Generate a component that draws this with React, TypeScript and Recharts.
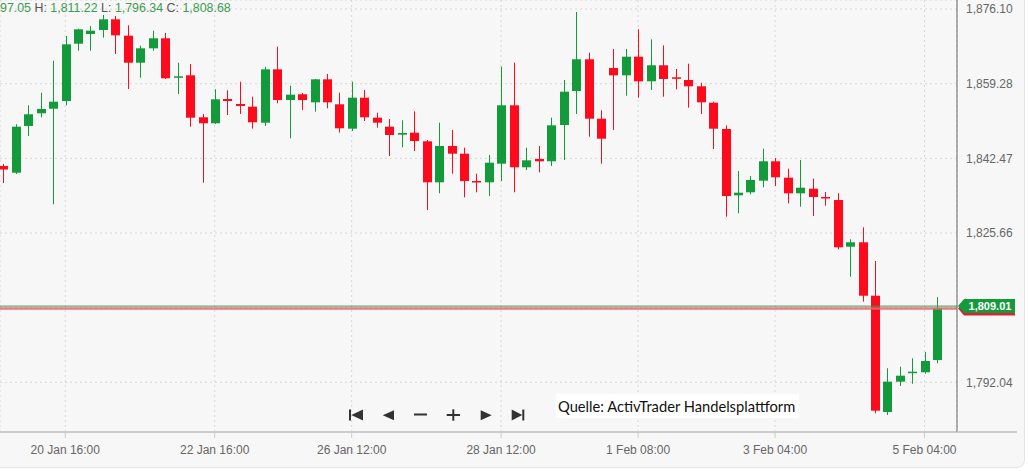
import React from 'react';
import { ComposedChart, Bar, XAxis, YAxis, CartesianGrid, ReferenceLine } from 'recharts';

// 4h candles
const opens = [
  1840.75, 1839.24, 1849.76, 1852.62, 1853.65, 1855.39, 1868.29, 1870.47, 1871.37, 1873.78,
  1870.09, 1864.01, 1867.25, 1869.51, 1860.72, 1861.17, 1851.72, 1850.37, 1855.84, 1854.71,
  1854.1, 1850.5, 1862.52, 1855.61, 1856.9, 1855.09, 1860.27, 1854.64, 1849.15, 1856.13,
  1851.63, 1849.6, 1847.8, 1848.25, 1846.31, 1837.08, 1845.25, 1843.52, 1837.37, 1837.08,
  1841.27, 1854.42, 1840.46, 1842.33, 1841.81, 1849.98, 1857.64, 1864.78, 1851.4, 1862.82,
  1861.17, 1865.36, 1859.82, 1863.43, 1860.72, 1860.12, 1858.7, 1855.0, 1849.08, 1834.15,
  1834.83, 1837.44, 1841.81, 1838.12, 1834.6, 1835.64, 1833.77, 1833.09, 1822.58, 1823.57,
  1811.54, 1785.36, 1792.18, 1794.14, 1794.3, 1797.05
];
const highs = [
  1841.2, 1850.14, 1854.42, 1857.26, 1864.46, 1870.02, 1871.67, 1872.28, 1874.75, 1874.53,
  1872.43, 1867.84, 1871.22, 1870.7, 1864.01, 1863.72, 1852.46, 1858.02, 1857.8, 1859.73,
  1856.35, 1863.11, 1867.61, 1858.83, 1857.19, 1860.34, 1861.47, 1857.26, 1859.73, 1857.86,
  1852.75, 1851.33, 1851.04, 1853.07, 1846.6, 1850.5, 1848.86, 1844.87, 1839.02, 1843.23,
  1863.11, 1864.01, 1844.87, 1845.25, 1851.63, 1860.12, 1875.43, 1866.26, 1853.29, 1867.1,
  1867.1, 1871.53, 1869.28, 1867.93, 1862.59, 1863.79, 1859.51, 1855.23, 1849.91, 1839.62,
  1838.5, 1844.65, 1842.55, 1840.14, 1842.1, 1837.89, 1834.9, 1834.6, 1824.24, 1826.95,
  1819.36, 1795.2, 1795.56, 1797.45, 1798.87, 1811.22
];
const lows = [
  1836.92, 1838.95, 1847.51, 1851.72, 1832.13, 1854.42, 1866.71, 1866.71, 1869.64, 1865.97,
  1858.09, 1860.63, 1866.71, 1860.34, 1856.96, 1849.6, 1836.99, 1850.21, 1852.23, 1852.46,
  1849.15, 1849.76, 1854.87, 1846.99, 1853.36, 1852.98, 1853.74, 1848.29, 1848.63, 1850.88,
  1849.37, 1843.0, 1844.96, 1844.13, 1830.84, 1834.6, 1839.02, 1833.7, 1834.83, 1833.99,
  1837.37, 1834.83, 1839.85, 1839.33, 1840.75, 1842.1, 1852.46, 1847.35, 1841.27, 1848.86,
  1856.58, 1856.13, 1857.86, 1856.35, 1858.02, 1853.88, 1852.46, 1844.58, 1829.33, 1830.1,
  1834.38, 1835.95, 1836.25, 1832.35, 1831.59, 1829.49, 1831.81, 1821.99, 1815.82, 1810.19,
  1785.06, 1784.68, 1791.21, 1791.73, 1793.98, 1796.34
];
const closes = [
  1839.96, 1849.6, 1852.39, 1853.59, 1855.23, 1868.15, 1871.53, 1871.22, 1873.78, 1870.18,
  1864.01, 1867.25, 1869.51, 1860.5, 1860.95, 1851.63, 1850.37, 1855.77, 1855.39, 1854.26,
  1850.59, 1862.52, 1855.61, 1856.81, 1855.61, 1860.27, 1855.09, 1849.24, 1856.13, 1851.72,
  1850.5, 1847.73, 1848.18, 1846.38, 1837.08, 1845.25, 1843.52, 1837.37, 1837.08, 1841.49,
  1854.42, 1840.46, 1842.03, 1841.81, 1849.91, 1857.48, 1864.78, 1851.4, 1846.9, 1861.17,
  1865.36, 1859.82, 1863.43, 1860.34, 1860.41, 1858.7, 1855.09, 1849.15, 1833.99, 1834.74,
  1837.6, 1841.81, 1838.21, 1834.6, 1835.86, 1833.77, 1833.48, 1822.44, 1823.57, 1811.54,
  1785.65, 1792.18, 1793.53, 1794.43, 1796.84, 1808.68
];

const timeTickIndex = [5, 17, 28, 40, 51, 62, 74];
const timeTickLabels = ['20 Jan 16:00', '22 Jan 16:00', '26 Jan 12:00', '28 Jan 12:00', '1 Feb 08:00', '3 Feb 04:00', '5 Feb 04:00'];
const priceTicks = [1792.04, 1808.85, 1825.66, 1842.47, 1859.28, 1876.1];
const hiddenPriceTick = 1808.85;

const bidPrice = 1809.2;
const askPrice = 1808.68;
const bidLabel = '1,809.01';

const headerOpenTail = '97.05';
const headerFields = [
  { name: 'H:', value: '1,811.22' },
  { name: 'L:', value: '1,796.34' },
  { name: 'C:', value: '1,808.68' }
];
const sourceText = 'Quelle: ActivTrader Handelsplattform';

const GREEN = '#139a3b';
const RED = '#fd0b1c';
const BG = '#f7f7f7';

const data = opens.map((open, i) => ({
  idx: i,
  open,
  high: highs[i],
  low: lows[i],
  close: closes[i],
  range: [lows[i], highs[i]]
}));

const fmt = (v: number) => v.toLocaleString('en-US', { minimumFractionDigits: 2, maximumFractionDigits: 2 });

const Candle = (props: any) => {
  const { x, y, width, height, payload } = props;
  if (x == null || y == null || !payload) return null;
  const { open, close, high, low } = payload;
  const top = Math.min(y, y + height);
  const h = Math.abs(height);
  const color = close >= open ? GREEN : RED;
  const cx = Math.round(x + width / 2) + 0.5;
  const ratio = h / (high - low || 1);
  const yOf = (v: number) => top + (high - v) * ratio;
  const bodyTop = yOf(Math.max(open, close));
  const bodyBottom = yOf(Math.min(open, close));
  return (
    <g>
      <line x1={cx} x2={cx} y1={top} y2={top + h} stroke={color} strokeWidth={1} />
      <rect x={cx - 4.5} y={bodyTop} width={9} height={Math.max(bodyBottom - bodyTop, 1.5)} fill={color} />
    </g>
  );
};

const BidTag = (props: any) => {
  const vb = props.viewBox;
  if (!vb) return null;
  const x0 = vb.x + vb.width + 1;
  const yc = vb.y;
  const pts = (dy: number) =>
    `${x0},${yc + dy} ${x0 + 6},${yc - 7 + dy} ${x0 + 57},${yc - 7 + dy} ${x0 + 57},${yc + 7 + dy} ${x0 + 6},${yc + 7 + dy}`;
  return (
    <g>
      <polygon points={pts(2.5)} fill="#d9232e" />
      <polygon points={pts(0)} fill={GREEN} />
      <text x={x0 + 32} y={yc + 4} textAnchor="middle" fill="#fff" fontSize={11} fontWeight="bold">
        {bidLabel}
      </text>
    </g>
  );
};

const NavIcons = () => (
  <svg width={200} height={30} style={{ position: 'absolute', left: 340, top: 400 }}>
    <g fill="#333">
      <rect x={9} y={9.5} width={2} height={11} />
      <polygon points="11.3,15 23,9.5 23,20.5" />
      <polygon points="42.7,15.3 54,10.3 54,20.3" />
      <rect x={74} y={13.5} width={13} height={2} />
      <rect x={106.7} y={14} width={13.3} height={2} />
      <rect x={112.3} y={9.3} width={2} height={11.4} />
      <polygon points="151.7,15.3 140.7,10.3 140.7,20.3" />
      <polygon points="182.3,15 171.7,9.5 171.7,20.5" />
      <rect x={182.3} y={9.5} width={2} height={11} />
    </g>
  </svg>
);

export default function App() {
  return (
    <div
      style={{
        position: 'absolute',
        left: 0,
        top: 0,
        width: 1028,
        height: 471,
        background: '#fff',
        fontFamily: "'Liberation Sans', Arial, sans-serif"
      }}
    >
      <div
        style={{
          position: 'absolute',
          left: 0,
          top: 0,
          width: 1024,
          height: 467,
          background: BG,
          borderRight: '1px solid #e4e4e4',
          borderBottom: '1px solid #e4e4e4',
          borderBottomRightRadius: 8,
          overflow: 'hidden'
        }}
      >
        <ComposedChart width={1025} height={468} data={data} margin={{ top: 0, right: 0, bottom: 0, left: 0 }}>
          <CartesianGrid stroke="#d6d6d6" strokeDasharray="2 3" />
          <XAxis
            dataKey="idx"
            type="number"
            domain={[-0.24, 76.61]}
            allowDataOverflow
            ticks={timeTickIndex}
            interval={0}
            tickFormatter={(v: number) => timeTickLabels[timeTickIndex.indexOf(v)] ?? ''}
            height={36}
            axisLine={{ stroke: '#cccccc', strokeWidth: 2 }}
            tickLine={{ stroke: '#cccccc' }}
            tickSize={6}
            tickMargin={7}
            tick={{ fill: '#666', fontSize: 12 }}
          />
          <YAxis
            orientation="right"
            type="number"
            domain={[1780.85, 1878.13]}
            allowDataOverflow
            ticks={priceTicks}
            interval={0}
            width={68}
            tickFormatter={(v: number) => (v === hiddenPriceTick ? '' : fmt(v))}
            axisLine={{ stroke: '#666' }}
            tickLine={false}
            tickMargin={3}
            tick={{ fill: '#666', fontSize: 12 }}
          />
          <Bar dataKey="range" barSize={9} shape={<Candle />} isAnimationActive={false} />
          <ReferenceLine y={askPrice} stroke="#e8646e" strokeOpacity={0.85} strokeWidth={2.5} />
          <ReferenceLine y={bidPrice} stroke="#35a04e" strokeWidth={1} label={<BidTag />} />
        </ComposedChart>

        <div style={{ position: 'absolute', left: 957, top: 431, width: 60, height: 2, background: '#ccc' }} />

        <div style={{ position: 'absolute', left: 0, top: 1, fontSize: 12.4, lineHeight: '14px', whiteSpace: 'nowrap' }}>
          <span style={{ color: '#3d9d4f' }}>{headerOpenTail}</span>
          {headerFields.map((f) => (
            <span key={f.name}>
              <span style={{ color: '#555' }}> {f.name} </span>
              <span style={{ color: '#3d9d4f' }}>{f.value}</span>
            </span>
          ))}
        </div>

        <NavIcons />

        <div
          style={{
            position: 'absolute',
            left: 556,
            top: 394,
            width: 243,
            height: 24,
            background: '#fff',
            fontFamily: 'Lato, sans-serif',
            fontSize: 14.7,
            lineHeight: '24px',
            color: '#111',
            paddingLeft: 2,
            boxSizing: 'border-box',
            whiteSpace: 'nowrap'
          }}
        >
          {sourceText}
        </div>
      </div>
    </div>
  );
}
